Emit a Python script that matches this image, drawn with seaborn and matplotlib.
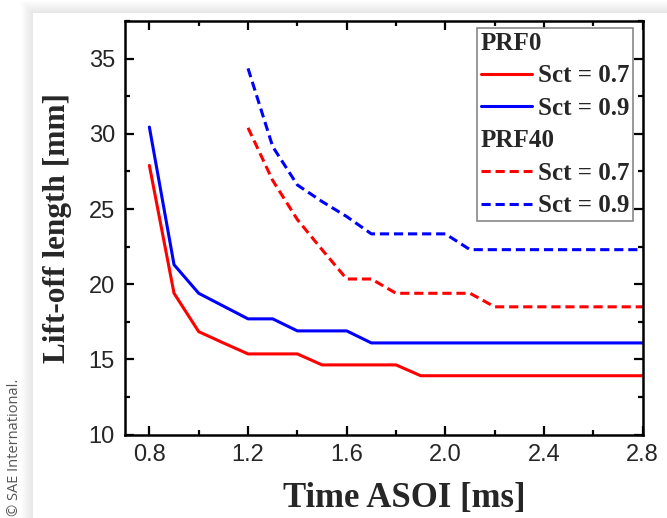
import numpy as np
import pandas as pd
import matplotlib
matplotlib.use("Agg")
import matplotlib.pyplot as plt
from matplotlib.lines import Line2D
from matplotlib.ticker import MultipleLocator
import seaborn as sns

# ---- data ----
t_prf0 = [0.8, 0.9, 1.0, 1.1, 1.2, 1.3, 1.4, 1.5, 1.6, 1.7, 1.8, 1.9, 2.0,
          2.1, 2.2, 2.3, 2.4, 2.5, 2.6, 2.7, 2.8]
prf0_sct07 = [27.9, 19.4, 16.85, 16.1, 15.37, 15.37, 15.37, 14.64, 14.64, 14.64,
              14.64, 13.92, 13.92, 13.92, 13.92, 13.92, 13.92, 13.92, 13.92, 13.92, 13.92]
prf0_sct09 = [30.45, 21.3, 19.4, 18.55, 17.7, 17.7, 16.9, 16.9, 16.9, 16.1,
              16.1, 16.1, 16.1, 16.1, 16.1, 16.1, 16.1, 16.1, 16.1, 16.1, 16.1]

t_prf40 = [1.2, 1.3, 1.4, 1.5, 1.6, 1.7, 1.8, 1.9, 2.0, 2.1, 2.2, 2.3, 2.4,
           2.5, 2.6, 2.7, 2.8]
prf40_sct07 = [30.4, 26.9, 24.3, 22.3, 20.35, 20.35, 19.4, 19.4, 19.4, 19.4,
               18.5, 18.5, 18.5, 18.5, 18.5, 18.5, 18.5]
prf40_sct09 = [34.35, 29.15, 26.6, 25.5, 24.5, 23.35, 23.35, 23.35, 23.35, 22.3,
               22.3, 22.3, 22.3, 22.3, 22.3, 22.3, 22.3]

xticks = [0.8, 1.2, 1.6, 2.0, 2.4, 2.8]
yticks = [10, 15, 20, 25, 30, 35]

frames = []
for prf, t, s07, s09 in [("PRF0", t_prf0, prf0_sct07, prf0_sct09),
                         ("PRF40", t_prf40, prf40_sct07, prf40_sct09)]:
    frames.append(pd.DataFrame({"time": t, "lift": s07, "Sct": "0.7", "PRF": prf}))
    frames.append(pd.DataFrame({"time": t, "lift": s09, "Sct": "0.9", "PRF": prf}))
df = pd.concat(frames, ignore_index=True)

sns.set_theme(style="ticks")
plt.rcParams["font.family"] = ["Liberation Sans", "DejaVu Sans"]

W, H = 667, 518
fig = plt.figure(figsize=(W / 100, H / 100), dpi=100)

# background card with soft shadow (decoration)
bg = fig.add_axes([0, 0, 1, 1], zorder=-10)
yy, xx = np.mgrid[0:H, 0:W]
d = np.maximum(33 - xx, 13 - yy).astype(float)
shade = np.where(d <= 0, 1.0, 0.90 + 0.10 * np.clip(d / 13.0, 0, 1))
shade = np.where(xx < 20, 1.0, shade)
bg.imshow(np.dstack([shade] * 3), extent=(0, W, H, 0), aspect="auto", interpolation="bilinear")
bg.set_axis_off()

ax = fig.add_axes([124.7 / W, 1 - 434.7 / H, (642.7 - 124.7) / W, (434.7 - 21) / H])
palette = {"0.7": "#ff0000", "0.9": "#0000ff"}
dashes = {"PRF0": "", "PRF40": (3, 1.6)}
sns.lineplot(data=df, x="time", y="lift", hue="Sct", style="PRF", palette=palette,
             dashes=dashes, lw=2.2, legend=False, ax=ax, estimator=None)

ax.set_xlim(0.7, 2.8)
ax.set_ylim(10, 37.5)
ax.set_xticks(xticks)
ax.set_xticklabels([f"{v:.1f}" for v in xticks])
ax.set_yticks(yticks)
ax.xaxis.set_minor_locator(MultipleLocator(0.2))
ax.yaxis.set_minor_locator(MultipleLocator(2.5))
ax.tick_params(which="both", direction="in", top=True, right=True, width=1.6,
               color="black")
ax.tick_params(which="major", length=6.5, labelsize=17, pad=7)
ax.tick_params(which="minor", length=3.5)
for sp in ax.spines.values():
    sp.set_linewidth(1.8)
    sp.set_color("black")
    sp.set_visible(True)

serif = ["Liberation Serif", "DejaVu Serif"]
ax.set_xlabel("Time ASOI [ms]", family=serif, weight="bold", fontsize=25, labelpad=11)
ax.xaxis.label.set_x(0.54)
ax.set_ylabel("Lift-off length [mm]", family=serif, weight="bold", fontsize=22.5, labelpad=12)

blank = Line2D([], [], color="none")
handles = [blank,
           Line2D([], [], color="#ff0000", lw=2.2),
           Line2D([], [], color="#0000ff", lw=2.2),
           blank,
           Line2D([], [], color="#ff0000", lw=2.2, dashes=(3, 1.6)),
           Line2D([], [], color="#0000ff", lw=2.2, dashes=(3, 1.6))]
labels = ["PRF0", "Sct = 0.7", "Sct = 0.9", "PRF40", "Sct = 0.7", "Sct = 0.9"]
leg = ax.legend(handles, labels, loc="upper right", bbox_to_anchor=(0.981, 0.983),
                prop={"family": serif, "weight": "bold", "size": 18},
                handlelength=2.05, handletextpad=0.23, labelspacing=0.38,
                borderpad=0.15, borderaxespad=0.0, frameon=True, fancybox=False)
leg.get_frame().set_edgecolor("#888888")
leg.get_frame().set_linewidth(1.2)
leg.get_frame().set_alpha(1)
# left-align the group headers
rows = leg._legend_handle_box.get_children()[0].get_children()
for i in (0, 3):
    rows[i].get_children()[0].width = 0
    rows[i].sep = 0

fig.text(15 / W, 0.003, "\u00a9 SAE International.", rotation=90, ha="center",
         va="bottom", fontsize=10.5, color="#555555", family=["Open Sans", "DejaVu Sans"])

fig.savefig("out.png", dpi=100)
